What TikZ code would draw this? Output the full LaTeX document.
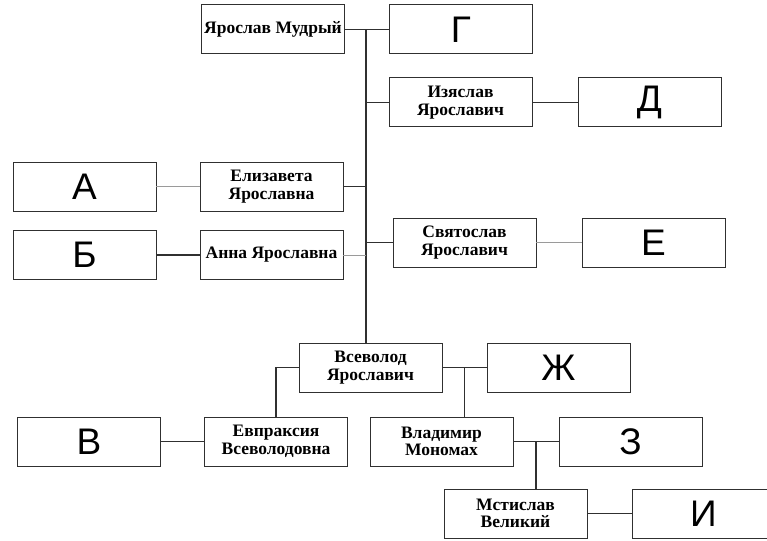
\documentclass[tikz,border=0pt]{standalone}
\usepackage{fontspec}
\setmainfont{Liberation Serif}
\newfontfamily\lettersans{Liberation Sans}
\usetikzlibrary{positioning,calc}
\definecolor{TreeLine}{HTML}{303030}
\definecolor{TreeThin}{HTML}{9A9A9A}

\begin{document}
\begin{tikzpicture}[
  x=1pt, y=-1pt,
  node distance=44pt,
  namebox/.style={draw=TreeLine, line width=1pt, minimum width=143pt, minimum height=49pt, inner sep=1pt, outer sep=0pt, align=center, font=\bfseries\fontsize{17.5}{17.5}\selectfont},
  letterbox/.style={namebox, font=\lettersans\fontsize{37}{37}\selectfont},
  treeline/.style={line width=1.2pt, TreeLine},
  thinline/.style={line width=0.8pt, TreeThin}
]
\useasboundingbox (0,0) rectangle (767,540);
\clip (0,0) rectangle (767,540);
\fill[white] (0,0) rectangle (767,540);
% named people and the unknown letters
\node[namebox] (yar) at (273,29.5) {Ярослав Мудрый};
\node[letterbox, right=45pt of yar] (g) {Г};
\node[namebox] (izya) at (460.5,102.5) {Изяслав\\Ярославич};
\node[letterbox, right=46pt of izya] (d) {Д};
\node[namebox] (eliz) at (271.5,186.5) {Елизавета\\Ярославна};
\node[letterbox, left=44pt of eliz] (a) {А};
\node[namebox] (anna) at (271.5,255) {Анна Ярославна};
\node[letterbox, left=44pt of anna] (b) {Б};
\node[namebox] (svya) at (464.5,242.5) {Святослав\\Ярославич};
\node[letterbox, right=46pt of svya] (e) {Е};
\node[namebox] (vsev) at (370.5,367.5) {Всеволод\\Ярославич};
\node[letterbox, right=45pt of vsev] (zh) {Ж};
\node[namebox] (evpr) at (276,441.5) {Евпраксия\\Всеволодовна};
\node[letterbox, left=44pt of evpr] (v) {В};
\node[namebox] (vlad) at (441.5,441.5) {Владимир\\Мономах};
\node[letterbox, right=46pt of vlad] (z) {З};
\node[namebox] (msti) at (515.5,513.5) {Мстислав\\Великий};
\node[letterbox, right=45pt of msti] (i) {И};
% connectors
\coordinate (trunk) at (366,29.5);
\draw[treeline] (yar) -- (g);
\draw[treeline] (trunk) -- (trunk |- vsev.north);
\draw[treeline] (trunk |- izya.west) -- (izya);
\draw[treeline] (izya) -- (d);
\draw[treeline] (eliz) -- (eliz -| trunk);
\draw[thinline] (a) -- (eliz);
\draw[thinline] (anna) -- (anna -| trunk);
\draw[treeline] (b) -- (anna);
\draw[treeline] (trunk |- svya.west) -- (svya);
\draw[thinline] (svya) -- (e);
\draw[treeline] (vsev) -- (zh);
\coordinate (vsfork) at ($(vsev.east)!0.5!(zh.west)$);
\draw[treeline] (vsfork) -- (vsfork |- vlad.north);
\draw[treeline] (vsev.west) -| (evpr.north);
\draw[treeline] (v) -- (evpr);
\draw[treeline] (vlad) -- (z);
\coordinate (vlfork) at ($(vlad.east)!0.5!(z.west)$);
\draw[treeline] (vlfork) -- (vlfork |- msti.north);
\draw[treeline] (msti) -- (i);
\end{tikzpicture}
\end{document}
